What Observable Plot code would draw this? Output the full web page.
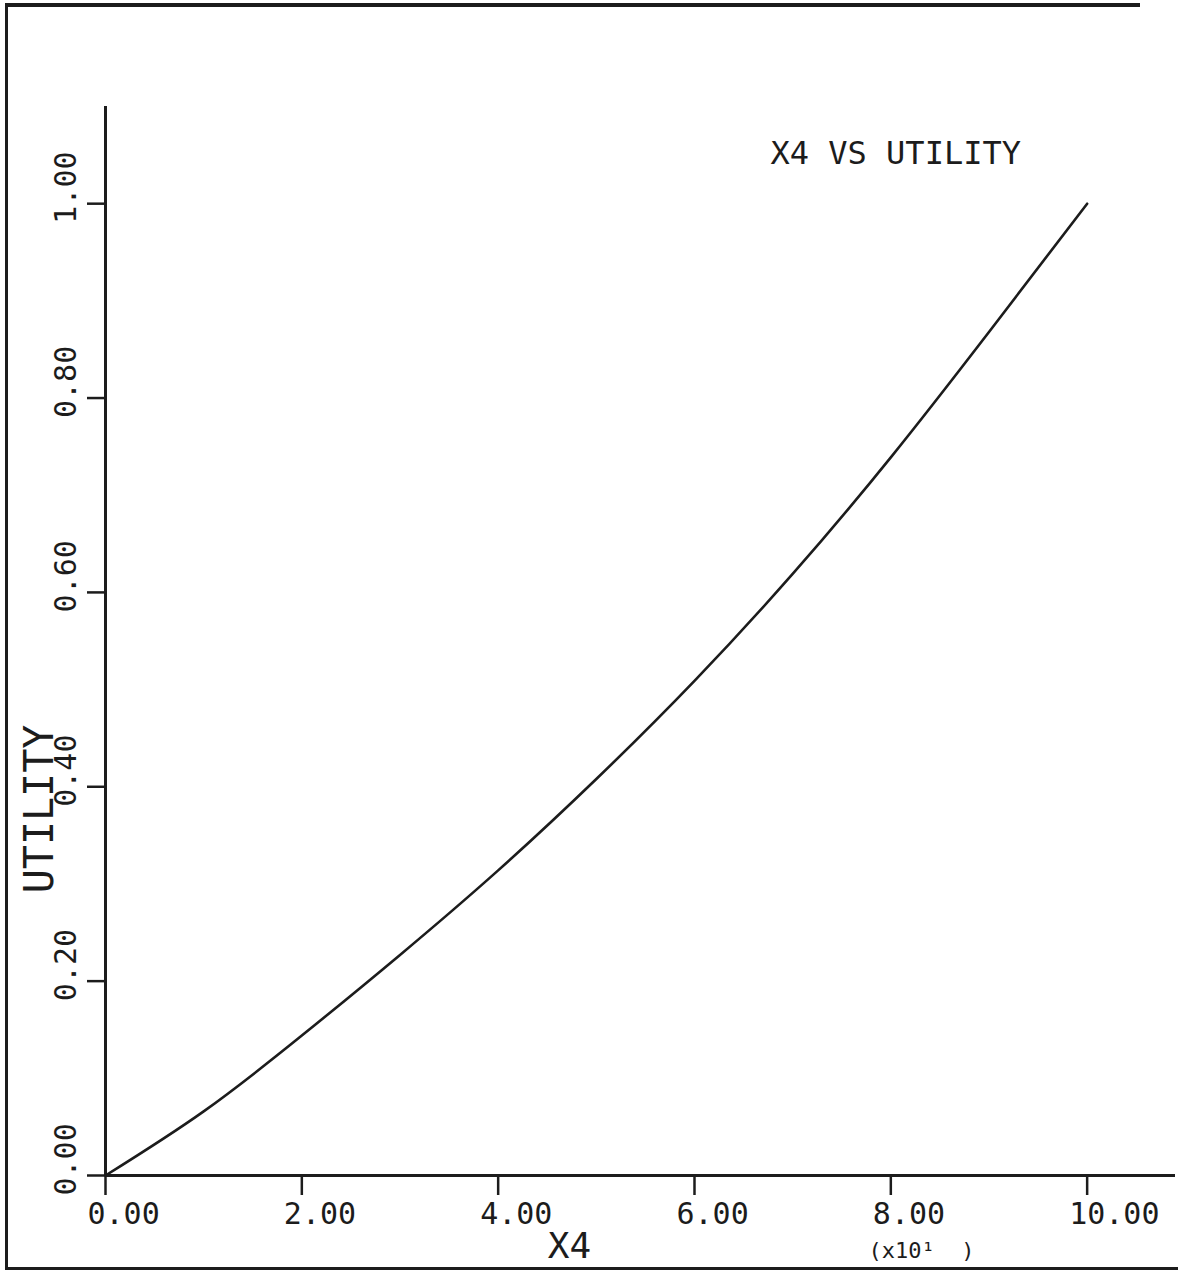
<!DOCTYPE html>
<html>
<head>
<meta charset="utf-8">
<script src="https://cdn.jsdelivr.net/npm/d3@7"></script>
<script src="https://cdn.jsdelivr.net/npm/@observablehq/plot@0.6"></script>
<style>
  html, body { margin: 0; padding: 0; background: #fff; }
  #wrap { position: relative; width: 1178px; height: 1273px; overflow: hidden; background: #fff; }
  #wrap svg { position: absolute; left: 0; top: 0; }
  .edge { position: absolute; background: #1c1c1c; }
</style>
</head>
<body>
<div id="wrap">
  <div class="edge" style="left:5px;top:3px;width:1135px;height:4px"></div>
  <div class="edge" style="left:5px;top:3px;width:3px;height:1267px"></div>
  <div class="edge" style="left:5px;top:1267px;width:1173px;height:3px"></div>
</div>
<script>
// ---- data ----
const x4Values = [0, 1, 2, 3, 4, 5, 6, 7, 8, 9, 10];
const utilityValues = [0, 0.066, 0.144, 0.227, 0.314, 0.408, 0.509, 0.619, 0.739, 0.868, 1.0];
const xTicks = [0, 2, 4, 6, 8, 10];
const xTickLabels = ["0.00", "2.00", "4.00", "6.00", "8.00", "10.00"];
const yTicks = [0, 0.2, 0.4, 0.6, 0.8, 1.0];
const yTickLabels = ["0.00", "0.20", "0.40", "0.60", "0.80", "1.00"];
const titleText = "X4 VS UTILITY";
const xLabel = "X4";
const yLabel = "UTILITY";
const xMultiplier = "(x10\u00B9  )";

const rows = x4Values.map((x, i) => ({x4: x, utility: utilityValues[i]}));
const ink = "#1c1c1c";
const mono = "'DejaVu Sans Mono', 'Liberation Mono', monospace";

const chart = Plot.plot({
  width: 1178,
  height: 1273,
  marginLeft: 105,
  marginRight: 3,
  marginTop: 106,
  marginBottom: 98,
  x: {domain: [0, 10.9]},
  y: {domain: [0, 1.1]},
  style: {fontFamily: mono, background: "transparent", color: ink},
  marks: [
    Plot.axisX(xTicks, {anchor: "bottom", tickSize: 20, tickFormat: () => "", label: null, color: ink, strokeWidth: 2.5}),
    Plot.axisY(yTicks, {anchor: "left", tickSize: 18, tickFormat: () => "", label: null, color: ink, strokeWidth: 2.5}),
    Plot.ruleY([0], {stroke: ink, strokeWidth: 3}),
    Plot.ruleX([0], {stroke: ink, strokeWidth: 3}),
    Plot.text(xTicks, {x: d => d, frameAnchor: "bottom", dy: 39, dx: -18, textAnchor: "start", lineAnchor: "middle",
      text: (d, i) => xTickLabels[i], fontSize: 30, fill: ink}),
    Plot.text(yTicks, {y: d => d, frameAnchor: "left", dx: -39, dy: 20, rotate: -90, textAnchor: "start", lineAnchor: "middle",
      text: (d, i) => yTickLabels[i], fontSize: 30, fill: ink}),
    Plot.line(rows, {x: "x4", y: "utility", stroke: ink, strokeWidth: 2.6, curve: "natural"}),
    Plot.text([titleText], {frameAnchor: "top-left", dx: 665, dy: 57, textAnchor: "start", lineAnchor: "bottom", fontSize: 32, fill: ink}),
    Plot.text([yLabel], {frameAnchor: "left", dx: -65, dy: 168, rotate: -90, textAnchor: "middle", lineAnchor: "middle", fontSize: 40, fill: ink}),
    Plot.text([xLabel], {frameAnchor: "bottom", dx: -71, dy: 82, textAnchor: "middle", lineAnchor: "bottom", fontSize: 36, fill: ink}),
    Plot.text([xMultiplier], {frameAnchor: "bottom-left", dx: 763, dy: 82, textAnchor: "start", lineAnchor: "bottom", fontSize: 22, fill: ink})
  ]
});
document.getElementById("wrap").appendChild(chart);
</script>
</body>
</html>
